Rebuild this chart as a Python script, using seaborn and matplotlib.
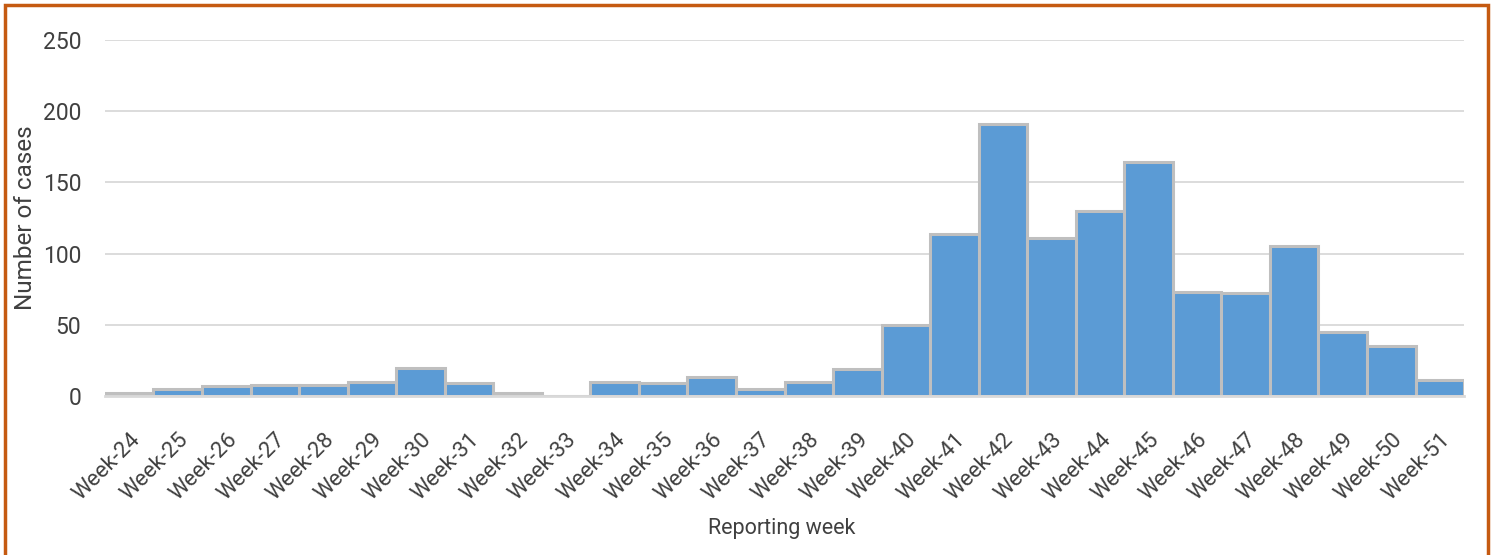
import matplotlib
matplotlib.use('Agg')
import matplotlib.pyplot as plt
import matplotlib.patches as patches
import seaborn as sns
import pandas as pd

# Weekly case counts
weeks = ['Week-%d' % w for w in range(24, 52)]
cases = [2, 5, 7, 8, 8, 10, 20, 9, 2, 0,
         10, 9, 13, 5, 10, 19, 50, 114, 191, 111,
         130, 164, 73, 72, 105, 45, 35, 11]

data = pd.DataFrame({'week': weeks, 'cases': cases})

sns.set_style('white')
plt.rcParams['font.family'] = ['Roboto', 'DejaVu Sans']
text_col = '#404040'

fig = plt.figure(figsize=(14.95, 5.55), dpi=100)
ax = fig.add_axes([0.0702, 0.2865, 0.9091, 0.6415])

sns.barplot(x='week', y='cases', data=data, ax=ax, width=1.0,
            color='#5B9BD5', saturation=1, edgecolor='#BFBFBF',
            linewidth=2.2, zorder=3)

ax.set_xlim(-0.5, len(weeks) - 0.5)
ax.set_ylim(0, 250)
ax.set_yticks(range(0, 251, 50))

# gridlines
ax.grid(axis='y', color='#D9D9D9', linewidth=1.3, zorder=0)
ax.set_axisbelow(True)
for side in ['top', 'right', 'left']:
    ax.spines[side].set_visible(False)
ax.spines['bottom'].set_color('#D9D9D9')
ax.spines['bottom'].set_linewidth(2)
ax.spines['bottom'].set_zorder(4)

# tick marks at category boundaries
ax.set_xticks([i - 0.5 for i in range(len(weeks) + 1)], minor=True)
ax.tick_params(axis='x', which='minor', length=7, width=1.8,
               color='#D9D9D9', direction='out')
ax.tick_params(axis='x', which='major', length=0, pad=24)
ax.tick_params(axis='y', length=0, pad=17)

ax.set_xticklabels(weeks, rotation=45, ha='right', rotation_mode='anchor',
                   fontsize=16, color=text_col)
for lbl in ax.get_yticklabels():
    lbl.set_fontsize(16.5)
    lbl.set_color(text_col)

ax.set_xlabel('Reporting week', fontsize=15.5, color=text_col)
ax.set_ylabel('Number of cases', fontsize=17.5, color=text_col)
ax.xaxis.set_label_coords(0.498, -0.343)
ax.yaxis.set_label_coords(-0.050, 0.5)

# orange frame around the chart
frame = patches.Rectangle((5 / 1495, -0.05), 1483 / 1495, 1 - 5 / 555 + 0.05,
                          transform=fig.transFigure, fill=False,
                          edgecolor='#C55A11', linewidth=2.5, clip_on=False)
fig.patches.append(frame)

fig.savefig('out.png', dpi=100)
